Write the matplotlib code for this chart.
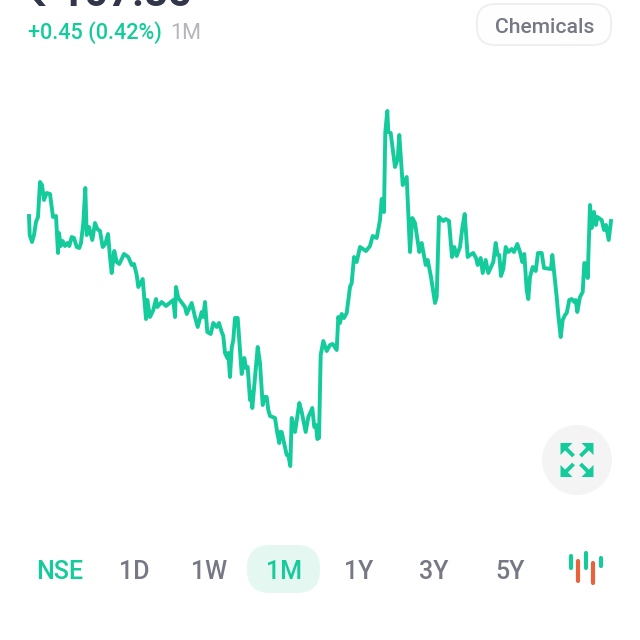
import matplotlib
matplotlib.use("Agg")
import matplotlib.pyplot as plt
from matplotlib.patches import FancyBboxPatch, Circle, Polygon

plt.rcParams['font.family'] = ['Roboto', 'DejaVu Sans']

# Series (horizontal position, vertical position in image pixels)
session = [29,29.7,32,34,36,38,40,42,44,46.7,50,53,56,58,59,60.7,62.7,65,67.3,69.3,71.7,74,76.7,79.3,81,83.3,85.3,86.7,89,92.3,95,97.3,100,102.7,105.3,108,110,111.7,114.3,116.7,119.3,124,128.3,131.7,134,136.7,138.3,142.7,146,147.3,150,153.3,156,157.3,161.7,166,173.3,175,176,178.3,185,186.7,191.7,195,197.7,201.7,203.3,205,207.3,210.7,213.3,216.7,219,
           221.7,223.3,225,227.3,228.3,230,231.7,233.3,235,237.7,241.7,244.3,246,247.7,250,251,252.3,255,257.7,260,262.7,264.3,266.7,268.3,270,275,277.3,279.3,280,281.7,285,286.7,288.3,290.3,291.7,295,299.3,301.7,305.7,308.3,312.3,314.3,316,317.3,319,320.7,323.3,326.7,330,332.7,336.7,338.3,340,341.7,344,346.7,
           350,351.7,354,356.7,360,366,370,372.7,376.7,380,381.7,384,385.3,387.3,388.3,390.7,395,397.7,399.3,402.7,406.7,410,412.3,415,419.3,421.7,425.7,427.7,431,435,436.7,439,443.3,445.7,449,452,454.3,456.7,460,462.3,464.7,467.7,470,473.3,476,477.7,480.7,482.7,485.7,488.3,493.3,495.7,497.7,499.3,501,503.3,505.7,508.3,511.7,514,517.3,520,522.3,524.3,526.7,528.3,530,532.7,535.7,538,541.7,544,551,552.3,556.7,558.3,560.7,562.7,565,566.7,569.3,571.7,574.3,575.7,577.3,580,582.7,584.3,586.7,587.7,590,591.7,594,596,597.3,601.7,604,606,608.7,611]
price = [216,235,242,235,222,217,182,185,200,193,194,217,216,253,233,246,241,246,243,246,237,238,247,248,243,223,188,235,227,240,223,229,231,247,244,234,257,273,251,262,264,254,257,265,264,275,287,279,319,300,317,310,299,307,302,306,300,317,287,298,307,314,303,317,327,312,317,302,332,334,323,327,323,
         332,336,353,358,353,377,348,340,318,318,374,358,368,367,400,392,408,377,347,363,405,397,397,410,416,418,433,443,432,432,447,455,455,466,418,432,403,412,432,417,408,427,425,439,438,355,341,351,345,344,350,317,323,314,318,313,
         287,283,257,262,247,251,246,236,238,220,199,212,132,111,132,133,167,159,135,185,177,252,218,223,252,243,265,260,277,303,297,217,221,219,221,257,247,256,247,228,214,257,255,253,258,265,258,273,260,273,262,243,255,255,276,269,247,252,249,252,244,252,262,254,290,299,277,267,271,253,253,268,269,255,297,315,337,320,315,313,300,299,302,300,312,297,292,263,264,278,205,228,212,225,217,220,230,225,240,221]

ranges = ["1D", "1W", "1M", "1Y", "3Y", "5Y"]
range_x = [134, 209, 284, 359, 434, 510]

GREEN = "#14CB9B"
GREY = "#767885"

fig = plt.figure(figsize=(6.4, 6.4), dpi=100, facecolor="white")
ax = fig.add_axes([0, 0, 1, 1])
ax.set_xlim(0, 640)
ax.set_ylim(640, 0)
ax.axis("off")

ax.plot(session, price, color=GREEN, lw=2.8, solid_joinstyle="round", zorder=3)

# Header
ax.text(28, 6, "₹ 107.85", fontsize=30, fontweight="bold", color="#33364A", va="baseline", ha="left")
ax.text(28, 39, "+0.45 (0.42%)", fontsize=15.6, fontweight="medium", color=GREEN, va="baseline", ha="left")
ax.text(170, 39, "1M", fontsize=15.6, color="#B4B6BC", va="baseline", ha="left")

# Chemicals pill
ax.add_patch(FancyBboxPatch((477, 4), 134, 41, boxstyle="round,pad=0,rounding_size=18",
                            fc="#FEFEFE", ec="#EEF0EE", lw=1.4))
ax.text(544.5, 33, "Chemicals", fontsize=15.2, fontweight="medium", color=GREY, va="baseline", ha="center")

# Expand button
ax.add_patch(Circle((577, 460), 35, fc="#F4F4F4", ec="none"))
for sx, sy in [(-1, -1), (1, -1), (-1, 1), (1, 1)]:
    tip = (577 + sx * 16.5, 460 + sy * 17)
    ax.add_patch(Polygon([tip, (tip[0] - sx * 12, tip[1]), (tip[0], tip[1] - sy * 12)],
                         closed=True, fc=GREEN, ec="none"))
    ax.plot([tip[0] - sx * 5, tip[0] - sx * 13], [tip[1] - sy * 5, tip[1] - sy * 13],
            color=GREEN, lw=2.8, solid_capstyle="butt")

# Range selector
ax.add_patch(FancyBboxPatch((247, 545), 73, 48, boxstyle="round,pad=0,rounding_size=23",
                            fc="#E4F8F1", ec="none"))
ax.text(36, 579, "NSE", fontsize=18, fontweight="medium", color=GREEN, va="baseline", ha="left")
for label, xpos in zip(ranges, range_x):
    col = GREEN if label == "1M" else GREY
    ax.text(xpos, 579, label, fontsize=18, fontweight="medium",
            color=col, va="baseline", ha="center")

# Candle icon
for x0, y0, y1, col in [(570.7, 556, 568, GREEN), (578, 561, 581, "#E8623C"), (586, 553, 568, GREEN),
                        (593, 563, 583, "#E8623C"), (601, 558, 566, GREEN)]:
    ax.plot([x0, x0], [y0, y1], color=col, lw=3, solid_capstyle="round")

fig.savefig("out.png", dpi=100, facecolor="white")
